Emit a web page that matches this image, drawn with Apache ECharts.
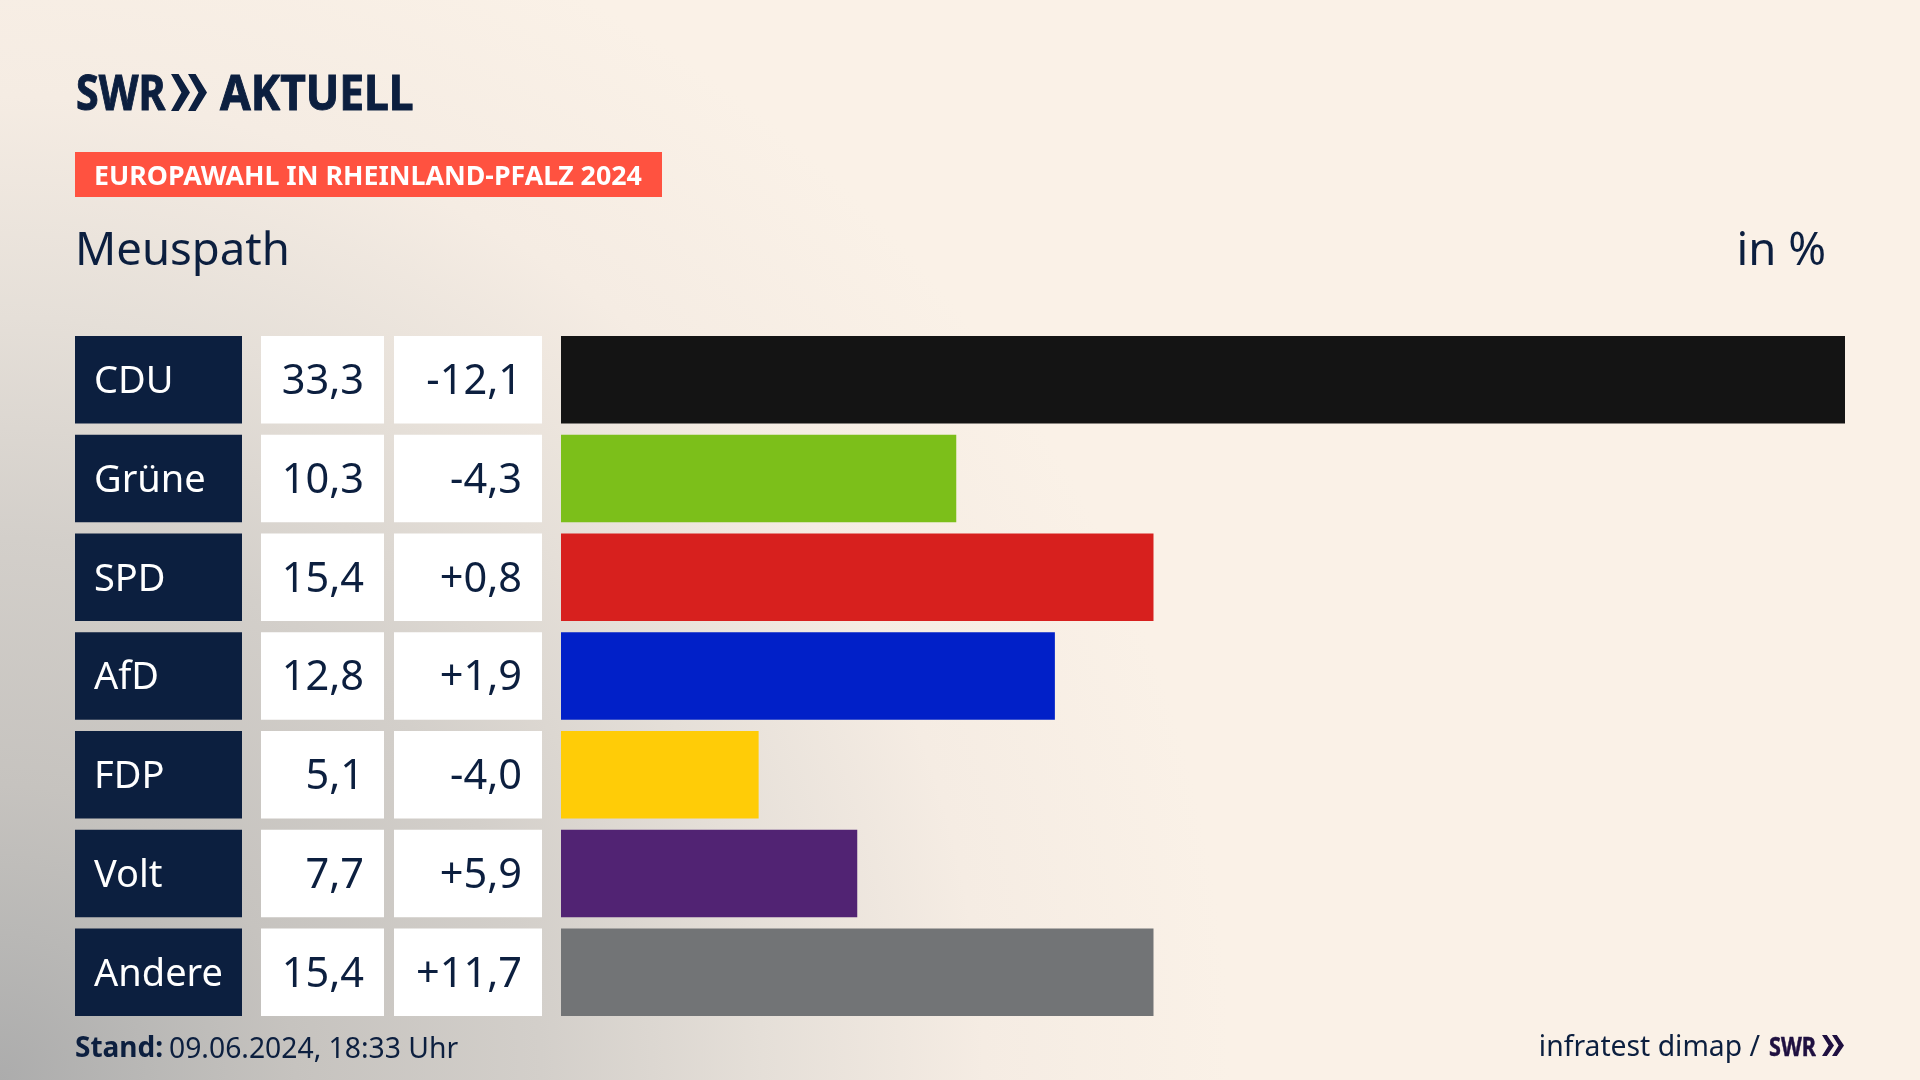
<!DOCTYPE html>
<html><head><meta charset="utf-8">
<style>html,body{margin:0;padding:0;width:1920px;height:1080px;overflow:hidden;background:#FAF1E7}#c{width:1920px;height:1080px}</style>
<script src="https://cdn.jsdelivr.net/npm/echarts@6/dist/echarts.min.js"></script>
</head><body><div id="c"></div>
<script>
const parties = ['CDU','Grüne','SPD','AfD','FDP','Volt','Andere'];
const votes = [33.33,10.26,15.38,12.82,5.13,7.69,15.38];
const changes = [-12.1,-4.3,0.8,1.9,-4.0,5.9,11.7];
const partyColors = ['#141414','#7CBF1A','#D7201E','#0120C8','#FFCC07','#512373','#727476'];
const NAVY = '#0C1F3F', FONT = '"Noto Sans"';
const fmt = v => v.toFixed(1).replace('.',',');
const fmtChange = v => (v>0?'+':'')+fmt(v);

const gridTop = 330.3, gridH = 691.25, barH = 87.5;
const columns = [[75,167],[261,123],[394,148],[561,1284]];
const grids = columns.map(c=>({left:c[0],width:c[1],top:gridTop,height:gridH,containLabel:false}));
const xAxes = [[0,1],[0,40],[-20,20],[0,33.33]].map((r,i)=>({type:'value',gridIndex:i,min:r[0],max:r[1],show:false}));
const yAxes = grids.map((g,i)=>({type:'category',gridIndex:i,data:parties,inverse:true,show:false}));

function tile(fill,color,align,pad,size,textOf){
  return function(params,api){
    const cs = params.coordSys, cy = api.coord([0,params.dataIndex])[1];
    return {type:'group',children:[
      {type:'rect',shape:{x:cs.x,y:cy-barH/2,width:cs.width,height:barH},style:{fill:fill}},
      {type:'text',style:{text:textOf(params.dataIndex),x:align==='left'?cs.x+pad:cs.x+cs.width-pad,y:cy+2.5,
        align:align,verticalAlign:'middle',fill:color,font:size+'px '+FONT}}
    ]};
  };
}
const series = [
  {type:'custom',name:'Partei',xAxisIndex:0,yAxisIndex:0,silent:true,data:parties.map((p,i)=>[0,p]),
   renderItem:tile(NAVY,'#fff','left',19,38,i=>parties[i])},
  {type:'custom',name:'Ergebnis',xAxisIndex:1,yAxisIndex:1,silent:true,data:votes.map((v,i)=>[v,parties[i]]),
   renderItem:tile('#fff',NAVY,'right',20,41.5,i=>fmt(votes[i]))},
  {type:'custom',name:'Veränderung',xAxisIndex:2,yAxisIndex:2,silent:true,data:changes.map((v,i)=>[v,parties[i]]),
   renderItem:tile('#fff',NAVY,'right',20,41.5,i=>fmtChange(changes[i]))},
  {type:'bar',name:'Stimmenanteil',xAxisIndex:3,yAxisIndex:3,barWidth:barH,silent:true,animation:false,
   data:votes.map((v,i)=>({value:v,itemStyle:{color:partyColors[i]}}))}
];

function txt(text,x,y,font,fill,align,sx,heavy){
  return {type:'text',silent:true,x:x,y:y,scaleX:sx||1,
    style:{text:text,x:0,y:0,font:font,fill:fill,align:align||'left',verticalAlign:'middle',
      stroke:heavy?fill:null,lineWidth:heavy||0}};
}
function chevron(x,y,h,w,fill){
  return {type:'polygon',silent:true,shape:{points:[[x,y],[x+w*0.4,y],[x+w,y+h/2],[x+w*0.4,y+h],[x,y+h],[x+w*0.55,y+h/2]]},style:{fill:fill}};
}
const graphics = [
  txt('SWR',76,96,'bold 49px '+FONT,NAVY,'left',0.84,1),
  chevron(171,74,37,19,NAVY),
  chevron(188,74,37,19,NAVY),
  txt('AKTUELL',220,96,'bold 49px '+FONT,NAVY,'left',0.905,1),
  {type:'rect',silent:true,shape:{x:75,y:152,width:587,height:45},style:{fill:'#FF5240'}},
  txt('EUROPAWAHL IN RHEINLAND-PFALZ 2024',94,177,'bold 26.75px '+FONT,'#fff'),
  txt('Meuspath',75,252,'45.5px '+FONT,NAVY),
  txt('in %',1826,252,'45.5px '+FONT,NAVY,'right'),
  txt('Stand:',75,1049.5,'bold 28px '+FONT,NAVY),
  txt('09.06.2024, 18:33 Uhr',169,1049.5,'28.3px '+FONT,NAVY),
  txt('infratest dimap /',1760,1048,'28.3px '+FONT,NAVY,'right'),
  txt('SWR',1769,1048,'bold 27px '+FONT,'#1F1040','left',0.8,0.5),
  chevron(1822,1035,21,12,'#1F1040'),
  chevron(1832,1035,21,12,'#1F1040')
];

const chart = echarts.init(document.getElementById('c'),null,{width:1920,height:1080});
chart.setOption({
  animation:false,
  backgroundColor:{type:'radial',x:0,y:1080,r:1230,global:true,colorStops:[
    {offset:0,color:'#ACACAC'},{offset:0.12,color:'#B9B8B6'},{offset:0.24,color:'#C6C3BF'},
    {offset:0.44,color:'#D3CFCA'},{offset:0.62,color:'#E5DFD8'},{offset:0.8,color:'#F5ECE3'},{offset:1,color:'#FAF1E7'}]},
  grid:grids,xAxis:xAxes,yAxis:yAxes,series:series,graphic:{elements:graphics}
});
</script></body></html>
